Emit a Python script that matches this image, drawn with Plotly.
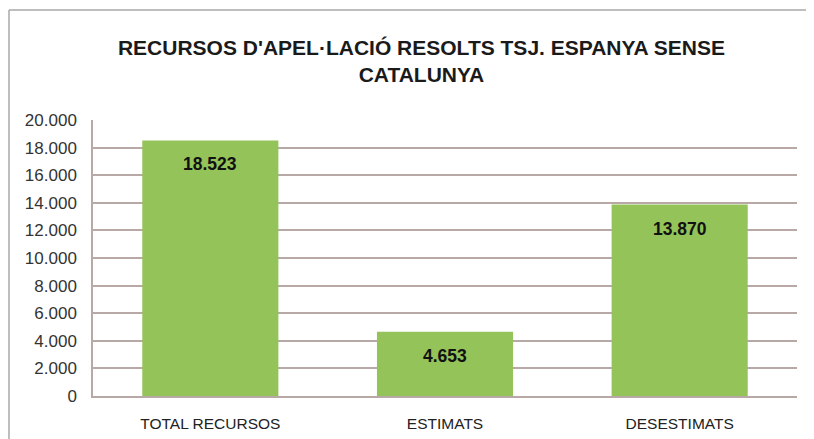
import plotly.graph_objects as go

categories = ["TOTAL RECURSOS", "ESTIMATS", "DESESTIMATS"]
values = [18523, 4653, 13870]
value_labels = ["18.523", "4.653", "13.870"]
tick_vals = [0, 2000, 4000, 6000, 8000, 10000, 12000, 14000, 16000, 18000, 20000]
tick_text = ["0", "2.000", "4.000", "6.000", "8.000", "10.000", "12.000", "14.000", "16.000", "18.000", "20.000"]
title_text = "RECURSOS D'APEL·LACIÓ RESOLTS TSJ. ESPANYA SENSE<br>CATALUNYA"

FONT = "Liberation Sans, Arial, sans-serif"
GRID = "#B8A9A7"
BAR = "#93C359"

# the page body adds an 8px offset; figure is sized to fill the rest
W, H = 806, 431
L, R, T, B = 85, 17, 112, 43

fig = go.Figure()
fig.add_trace(go.Bar(
    x=categories, y=values,
    marker=dict(color=BAR, line=dict(width=0)),
    hoverinfo="skip",
))

for c, v, t in zip(categories, values, value_labels):
    fig.add_annotation(x=c, y=v, text=f"<b>{t}</b>", showarrow=False,
                       yanchor="middle", yshift=-24,
                       font=dict(family=FONT, size=17.5, color="#111111"))

pw = W - L - R
ph = H - T - B
top_y = (H - B - 2) / ph
left_x = (1 - L) / pw
fig.add_shape(type="line", xref="paper", yref="paper",
              x0=left_x, x1=(W - L) / pw, y0=top_y, y1=top_y,
              line=dict(color="#A9A9A9", width=1.5))
fig.add_shape(type="line", xref="paper", yref="paper",
              x0=left_x, x1=left_x, y0=top_y, y1=-B / ph - 0.05,
              line=dict(color="#A9A9A9", width=1.5))

fig.update_layout(
    width=W, height=H,
    margin=dict(l=L, r=R, t=T, b=B, autoexpand=False),
    paper_bgcolor="white", plot_bgcolor="white",
    bargap=0.42,
    showlegend=False,
    title=dict(text=f"<b>{title_text}</b>", x=0.513, xanchor="center",
               y=1 - 47 / H, yanchor="middle",
               font=dict(family=FONT, size=21, color="#1a1a1a")),
    xaxis=dict(showline=True, linecolor=GRID, linewidth=1.5, showgrid=False,
               automargin=False,
               ticks="", ticklabelstandoff=13,
               tickfont=dict(family=FONT, size=15.5, color="#222222")),
    yaxis=dict(range=[0, 20000], tickvals=tick_vals, ticktext=tick_text,
               automargin=False,
               showgrid=True, gridcolor=GRID, gridwidth=1.5,
               showline=True, linecolor=GRID, linewidth=1.5, mirror=False,
               zeroline=False, ticks="", ticklabelstandoff=11,
               tickfont=dict(family=FONT, size=17, color="#333333")),
)

fig.write_html("out.html")
